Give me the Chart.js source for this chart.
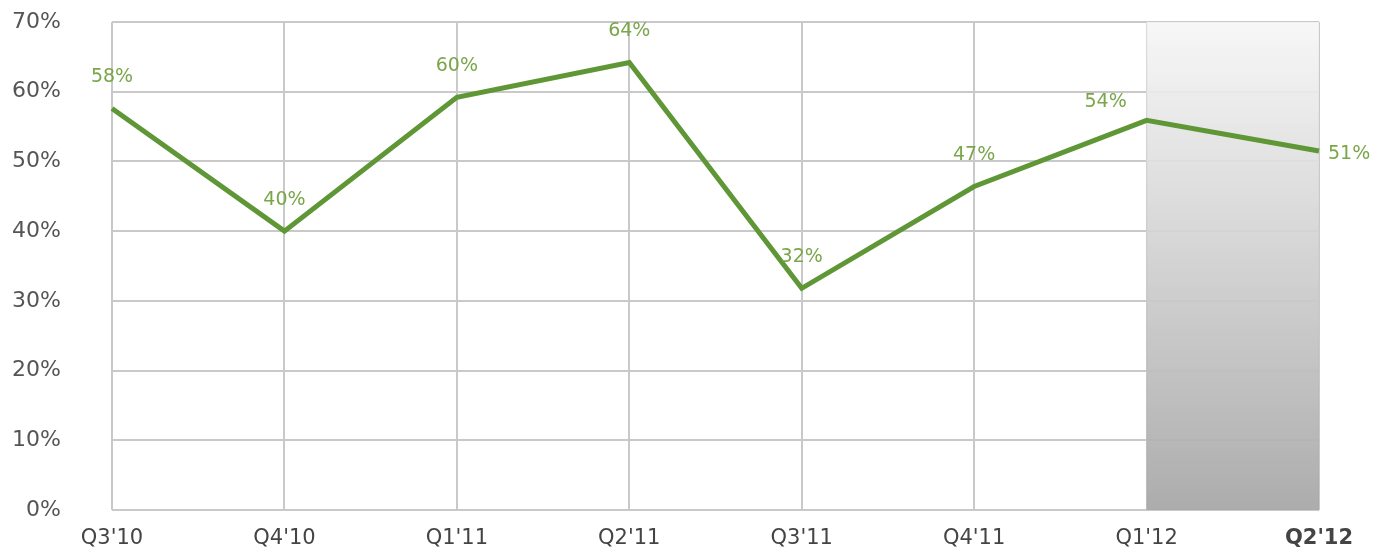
<!DOCTYPE html>
<html>
<head>
<meta charset="utf-8">
<script src="https://cdn.jsdelivr.net/npm/chart.js@4"></script>
<style>
    body { margin: 0; background: #fff; }
    #wrap { width: 1387px; height: 559px; }
</style>
</head>
<body>
<div id="wrap"><canvas id="lineChart" width="1387" height="559"></canvas></div>
<script>
var quarters = ["Q3'10", "Q4'10", "Q1'11", "Q2'11", "Q3'11", "Q4'11", "Q1'12", "Q2'12"];
var shares = [57.6, 40, 59.2, 64.2, 31.8, 46.4, 55.9, 51.5];
var shareLabels = ['58%', '40%', '60%', '64%', '32%', '47%', '54%', '51%'];
var yTicks = [0, 10, 20, 30, 40, 50, 60, 70];
var shadedFrom = "Q1'12";
var shadedTo = "Q2'12";

// where each value label sits relative to its point
var labelPlace = ['top', 'top', 'top', 'top', 'top', 'top', 'topleft', 'right'];

var shadePlugin = {
    id: 'shade',
    beforeDatasetsDraw: function (chart) {
        var ctx = chart.ctx;
        var area = chart.chartArea;
        var x = chart.scales.x;
        var x1 = x.getPixelForValue(quarters.indexOf(shadedFrom));
        var x2 = x.getPixelForValue(quarters.indexOf(shadedTo));
        var grad = ctx.createLinearGradient(0, area.top, 0, area.bottom);
        grad.addColorStop(0, 'rgba(246,246,246,0.9)');
        grad.addColorStop(1, 'rgba(168,168,168,0.95)');
        ctx.save();
        ctx.fillStyle = grad;
        ctx.fillRect(x1, area.top, x2 - x1, area.bottom - area.top);
        ctx.restore();
    }
};

var valueLabels = {
    id: 'valueLabels',
    afterDatasetsDraw: function (chart) {
        var ctx = chart.ctx;
        var meta = chart.getDatasetMeta(0);
        ctx.save();
        ctx.font = '19px "DejaVu Sans"';
        ctx.fillStyle = '#7aa64a';
        ctx.textBaseline = 'middle';
        meta.data.forEach(function (pt, i) {
            var place = labelPlace[i];
            if (place === 'right') {
                ctx.textAlign = 'left';
                ctx.fillText(shareLabels[i], pt.x + 9, pt.y + 3);
            } else if (place === 'topleft') {
                ctx.textAlign = 'center';
                ctx.fillText(shareLabels[i], pt.x - 41, pt.y - 18);
            } else {
                ctx.textAlign = 'center';
                ctx.fillText(shareLabels[i], pt.x, pt.y - 31);
            }
        });
        ctx.restore();
    }
};

var lineChart = new Chart(document.getElementById('lineChart').getContext('2d'), {
    type: 'line',
    data: {
        labels: quarters,
        datasets: [{
            data: shares,
            borderColor: '#5f9636',
            borderWidth: 5,
            pointRadius: 0,
            tension: 0,
            fill: false
        }]
    },
    options: {
        responsive: false,
        animation: false,
        layout: { padding: { top: 22, right: 68, bottom: 0, left: 0 } },
        plugins: {
            legend: { display: false },
            tooltip: { enabled: false }
        },
        scales: {
            x: {
                offset: false,
                afterFit: function (scale) { scale.height = 49; },
                grid: { color: '#c9c9c9', lineWidth: 2, drawTicks: false },
                border: { display: false },
                ticks: {
                    padding: 16,
                    color: '#444',
                    maxRotation: 0,
                    font: function (c) {
                        return { family: 'DejaVu Sans', size: 21, weight: c.index === 7 ? 'bold' : 'normal' };
                    }
                }
            },
            y: {
                min: 0,
                max: 70,
                afterFit: function (scale) {
                    scale.width = 112;
                    // big tick padding should not push the plot down
                    scale.paddingTop = 0;
                    scale.paddingBottom = 0;
                },
                afterBuildTicks: function (scale) {
                    scale.ticks = yTicks.map(function (v) { return { value: v }; });
                },
                grid: { color: '#c9c9c9', lineWidth: 2, drawTicks: false },
                border: { display: false },
                ticks: {
                    padding: 51,
                    color: '#555',
                    font: { family: 'DejaVu Sans', size: 22 },
                    callback: function (v) { return v + '%'; }
                }
            }
        }
    },
    plugins: [shadePlugin, valueLabels]
});
</script>
</body>
</html>
